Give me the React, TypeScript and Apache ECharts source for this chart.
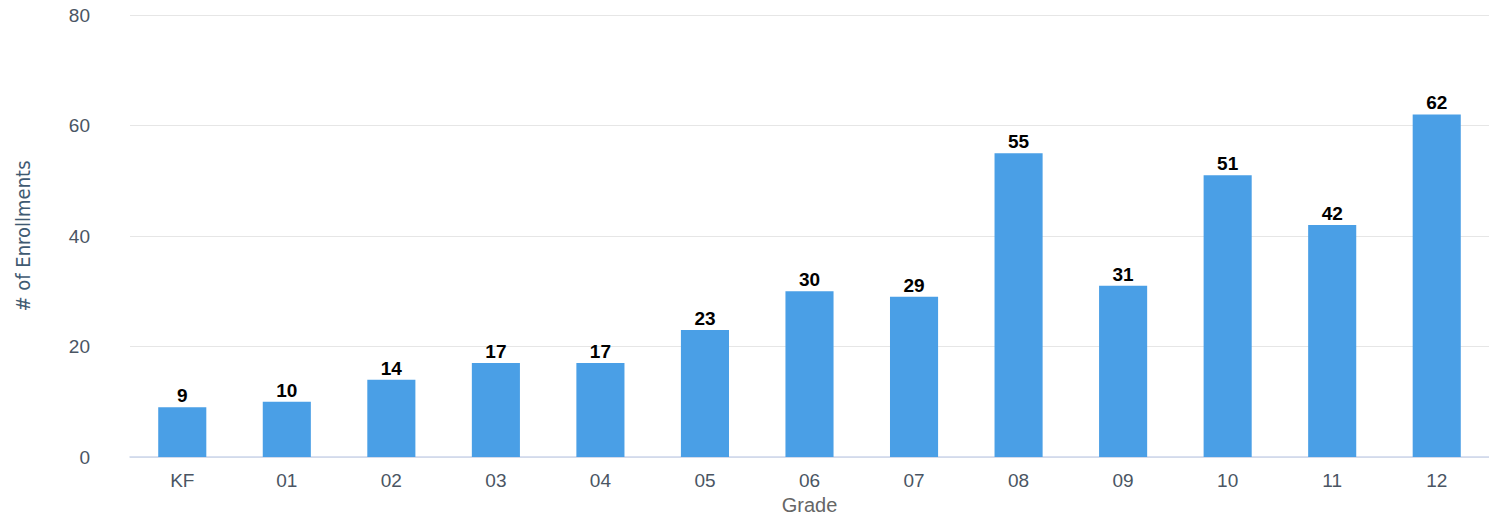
import React, { useEffect, useRef } from "react";
import * as echarts from "echarts";

const categories = ["KF", "01", "02", "03", "04", "05", "06", "07", "08", "09", "10", "11", "12"];
const enrollments = [9, 10, 14, 17, 17, 23, 30, 29, 55, 31, 51, 42, 62];
const yTicks = { min: 0, max: 80, interval: 20 };

export default function App() {
  const ref = useRef<HTMLDivElement>(null);
  useEffect(() => {
    document.body.style.margin = "0";
    const chart = echarts.init(ref.current!, null, { renderer: "svg" });
    chart.setOption({
      animation: false,
      grid: { left: 130, right: 0, top: 15, bottom: 59, outerBoundsMode: "none", containLabel: false },
      xAxis: {
        type: "category",
        data: categories,
        name: "Grade",
        nameLocation: "middle",
        nameGap: 37,
        nameTextStyle: { color: "#666666", fontSize: 20, lineHeight: 20, fontFamily: "Liberation Sans, Arial, sans-serif" },
        axisLine: { lineStyle: { color: "#ccd6eb", width: 1.5 } },
        axisTick: { show: false },
        axisLabel: { color: "#4a5563", fontSize: 19, margin: 14, fontFamily: "Liberation Sans, Arial, sans-serif" },
      },
      yAxis: {
        type: "value",
        min: yTicks.min,
        max: yTicks.max,
        interval: yTicks.interval,
        name: "# of Enrollments",
        nameLocation: "middle",
        nameGap: 97,
        nameTextStyle: { color: "#3f5a72", fontSize: 20, fontFamily: "Liberation Sans Narrow, DejaVu Sans Condensed, sans-serif" },
        axisLine: { show: false },
        axisTick: { show: false },
        axisLabel: { color: "#4a5563", fontSize: 19, margin: 40, fontFamily: "Liberation Sans, Arial, sans-serif" },
        splitLine: { lineStyle: { color: "#e6e6e6", width: 1 } },
      },
      series: [
        {
          type: "bar",
          data: enrollments,
          barWidth: "46%",
          itemStyle: { color: "#4a9fe6" },
          label: {
            show: true,
            position: "top",
            distance: 2,
            color: "#000000",
            fontWeight: "bold",
            fontSize: 19,
            fontFamily: "Liberation Sans, Arial, sans-serif",
          },
        },
      ],
    });
    return () => chart.dispose();
  }, []);
  return <div ref={ref} style={{ width: 1489, height: 516 }} />;
}
